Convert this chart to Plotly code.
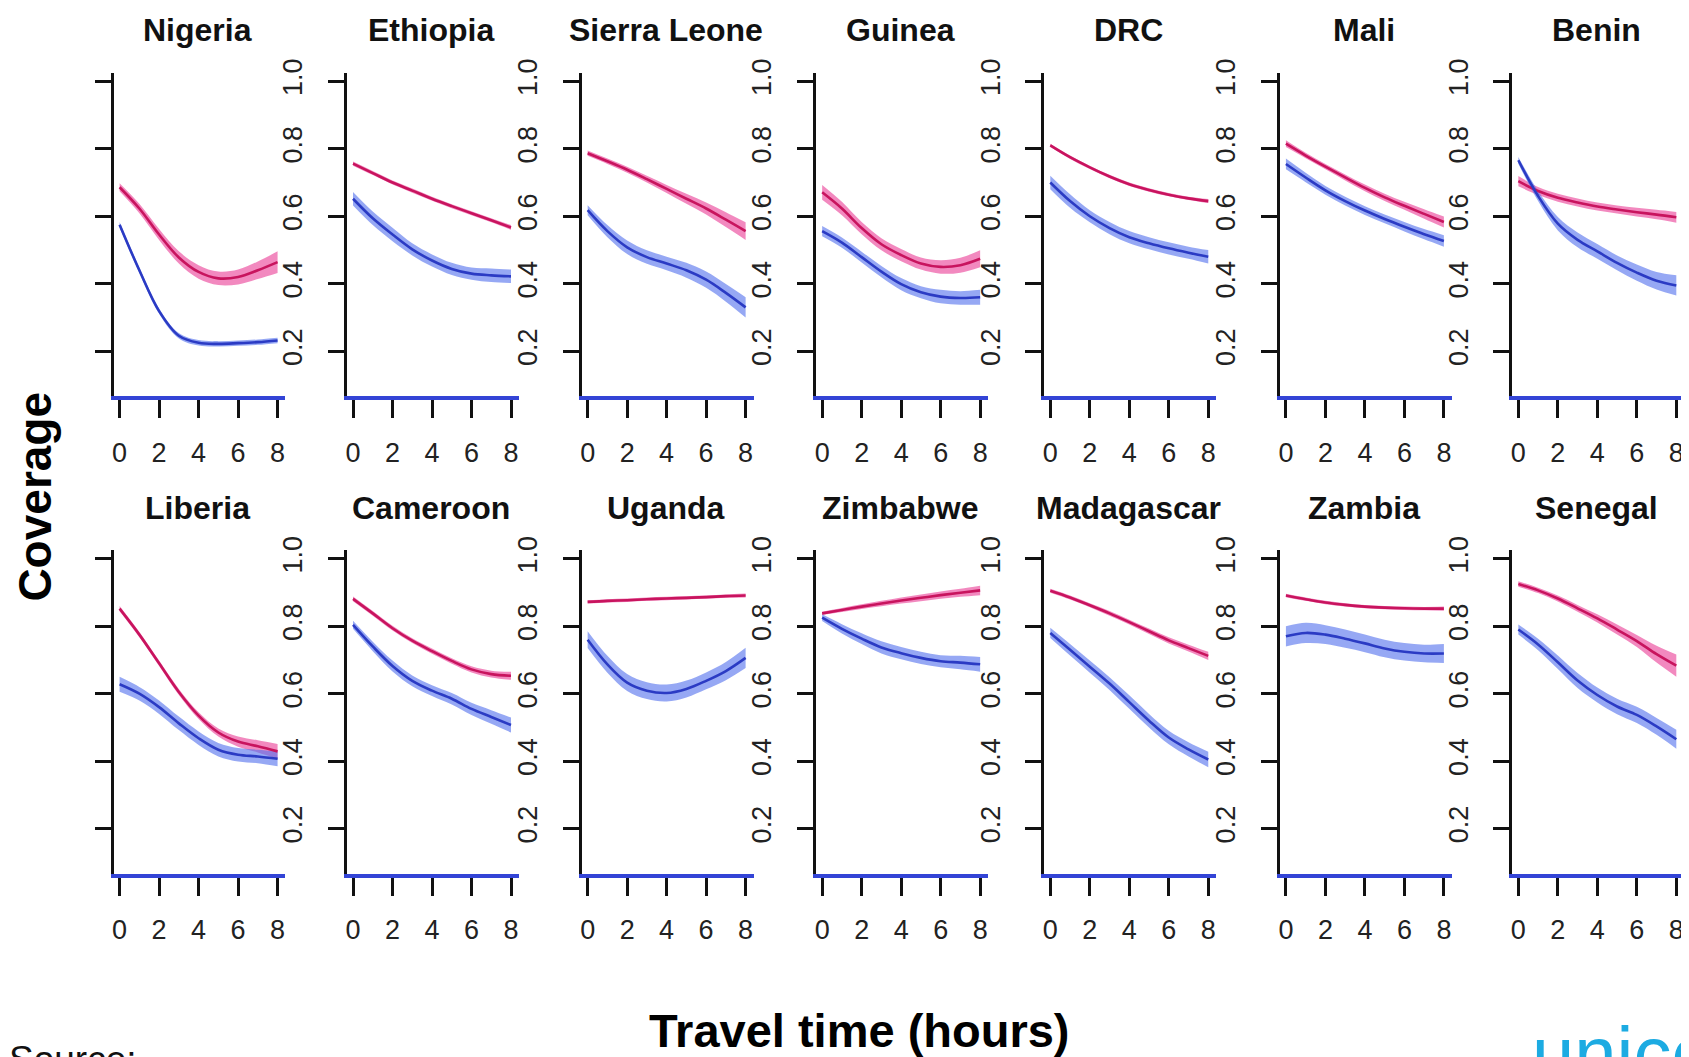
import plotly.graph_objects as go

W, H = 1689, 1057

hours = [0, 1, 2, 3, 4, 5, 6, 7, 8]
x_ticks = [0, 2, 4, 6, 8]
y_ticks = [0.2, 0.4, 0.6, 0.8, 1.0]
y_tick_text = ["0.2", "0.4", "0.6", "0.8", "1.0"]

countries = ["Nigeria", "Ethiopia", "Sierra Leone", "Guinea", "DRC", "Mali", "Benin",
             "Liberia", "Cameroon", "Uganda", "Zimbabwe", "Madagascar", "Zambia", "Senegal"]

# pink series: central estimate per country (hours 0..8)
pink_mid = [
    [0.686, 0.623, 0.546, 0.478, 0.435, 0.416, 0.420, 0.440, 0.464],
    [0.756, 0.728, 0.700, 0.676, 0.652, 0.630, 0.609, 0.588, 0.567],
    [0.787, 0.763, 0.738, 0.710, 0.681, 0.652, 0.623, 0.590, 0.556],
    [0.671, 0.623, 0.565, 0.517, 0.485, 0.460, 0.450, 0.455, 0.474],
    [0.810, 0.775, 0.745, 0.718, 0.695, 0.678, 0.664, 0.653, 0.645],
    [0.815, 0.780, 0.747, 0.715, 0.684, 0.656, 0.631, 0.607, 0.583],
    [0.704, 0.675, 0.655, 0.641, 0.629, 0.620, 0.612, 0.605, 0.597],
    [0.852, 0.775, 0.690, 0.605, 0.535, 0.485, 0.458, 0.444, 0.429],
    [0.881, 0.838, 0.794, 0.757, 0.726, 0.697, 0.672, 0.658, 0.653],
    [0.872, 0.875, 0.877, 0.880, 0.882, 0.884, 0.886, 0.889, 0.891],
    [0.838, 0.848, 0.858, 0.867, 0.876, 0.884, 0.892, 0.899, 0.906],
    [0.905, 0.885, 0.862, 0.838, 0.812, 0.785, 0.758, 0.735, 0.712],
    [0.891, 0.880, 0.870, 0.863, 0.858, 0.855, 0.853, 0.852, 0.852],
    [0.925, 0.906, 0.882, 0.853, 0.823, 0.790, 0.756, 0.717, 0.683],
]
# pink series: half-width of the uncertainty band
pink_ci = [
    [0.012, 0.014, 0.016, 0.018, 0.020, 0.020, 0.022, 0.026, 0.032],
    [0.006, 0.006, 0.006, 0.006, 0.006, 0.006, 0.006, 0.006, 0.007],
    [0.008, 0.008, 0.009, 0.010, 0.012, 0.015, 0.018, 0.022, 0.026],
    [0.022, 0.020, 0.018, 0.018, 0.018, 0.018, 0.020, 0.022, 0.025],
    [0.005, 0.005, 0.005, 0.005, 0.005, 0.005, 0.005, 0.005, 0.006],
    [0.010, 0.008, 0.008, 0.009, 0.010, 0.011, 0.012, 0.014, 0.016],
    [0.015, 0.012, 0.012, 0.012, 0.012, 0.012, 0.013, 0.014, 0.016],
    [0.008, 0.008, 0.008, 0.009, 0.010, 0.012, 0.015, 0.018, 0.022],
    [0.007, 0.007, 0.007, 0.007, 0.008, 0.008, 0.009, 0.010, 0.012],
    [0.005, 0.005, 0.005, 0.005, 0.005, 0.005, 0.005, 0.005, 0.006],
    [0.005, 0.006, 0.007, 0.008, 0.009, 0.010, 0.011, 0.012, 0.014],
    [0.006, 0.006, 0.006, 0.007, 0.007, 0.008, 0.009, 0.010, 0.012],
    [0.005, 0.005, 0.005, 0.005, 0.005, 0.005, 0.005, 0.005, 0.006],
    [0.008, 0.008, 0.009, 0.010, 0.012, 0.015, 0.018, 0.025, 0.033],
]
# blue series: central estimate per country
blue_mid = [
    [0.575, 0.440, 0.319, 0.246, 0.225, 0.222, 0.224, 0.227, 0.232],
    [0.652, 0.594, 0.546, 0.502, 0.469, 0.444, 0.430, 0.425, 0.422],
    [0.618, 0.556, 0.508, 0.479, 0.460, 0.440, 0.412, 0.373, 0.330],
    [0.556, 0.522, 0.479, 0.436, 0.399, 0.375, 0.362, 0.358, 0.360],
    [0.700, 0.645, 0.600, 0.565, 0.538, 0.520, 0.505, 0.492, 0.480],
    [0.755, 0.715, 0.677, 0.645, 0.617, 0.592, 0.569, 0.547, 0.527],
    [0.766, 0.660, 0.578, 0.530, 0.496, 0.462, 0.433, 0.409, 0.395],
    [0.628, 0.600, 0.560, 0.512, 0.468, 0.434, 0.419, 0.414, 0.407],
    [0.804, 0.740, 0.682, 0.638, 0.609, 0.585, 0.555, 0.531, 0.507],
    [0.760, 0.687, 0.633, 0.609, 0.602, 0.614, 0.638, 0.667, 0.706],
    [0.825, 0.792, 0.763, 0.737, 0.720, 0.706, 0.696, 0.692, 0.687],
    [0.780, 0.730, 0.680, 0.630, 0.575, 0.520, 0.470, 0.435, 0.405],
    [0.770, 0.780, 0.775, 0.763, 0.749, 0.734, 0.724, 0.719, 0.719],
    [0.790, 0.746, 0.693, 0.639, 0.596, 0.562, 0.537, 0.503, 0.465],
]
# blue series: half-width of the uncertainty band
blue_ci = [
    [0.008, 0.008, 0.008, 0.008, 0.008, 0.008, 0.008, 0.008, 0.008],
    [0.020, 0.020, 0.020, 0.018, 0.018, 0.018, 0.018, 0.020, 0.020],
    [0.015, 0.018, 0.020, 0.020, 0.020, 0.022, 0.024, 0.026, 0.030],
    [0.015, 0.015, 0.016, 0.017, 0.018, 0.018, 0.020, 0.020, 0.022],
    [0.020, 0.020, 0.018, 0.018, 0.018, 0.018, 0.018, 0.018, 0.020],
    [0.016, 0.014, 0.013, 0.013, 0.013, 0.013, 0.014, 0.015, 0.017],
    [0.010, 0.015, 0.020, 0.022, 0.022, 0.022, 0.024, 0.026, 0.030],
    [0.022, 0.020, 0.020, 0.020, 0.020, 0.020, 0.020, 0.020, 0.022],
    [0.012, 0.014, 0.016, 0.016, 0.016, 0.017, 0.018, 0.020, 0.022],
    [0.025, 0.025, 0.025, 0.025, 0.025, 0.025, 0.025, 0.027, 0.030],
    [0.010, 0.014, 0.016, 0.018, 0.018, 0.018, 0.018, 0.020, 0.022],
    [0.015, 0.017, 0.018, 0.019, 0.020, 0.020, 0.020, 0.021, 0.023],
    [0.030, 0.030, 0.028, 0.027, 0.026, 0.026, 0.026, 0.026, 0.028],
    [0.015, 0.017, 0.020, 0.022, 0.022, 0.023, 0.024, 0.025, 0.028],
]

# ---- styling / layout constants ----
PINK_BAND = "rgba(234,64,152,0.62)"
PINK_LINE = "#c8145e"
BLUE_BAND = "rgba(85,115,238,0.62)"
BLUE_LINE = "#2b3bc4"
AXIS_BLUE = "#3344d6"
TICK_FONT = "Liberation Sans Narrow, Arial Narrow, Liberation Sans, Arial, sans-serif"
TITLE_FONT = "Liberation Sans, Arial, Helvetica, sans-serif"

col_left = [103.8, 337.5, 572.4, 807.2, 1035.6, 1271.5, 1504.2]
panel_w = 172
row_top = [51.2, 535.0]
row_bottom = [379.5, 863.3]
title_y = [8.5, 493.0]
x_range = [-0.3, 8.4]
y_range = [0.066, 1.026]

fig = go.Figure()
layout_axes = {}
annotations = []

for i, name in enumerate(countries):
    r, c = divmod(i, 7)
    k = i + 1
    xa = "x" if k == 1 else f"x{k}"
    ya = "y" if k == 1 else f"y{k}"

    pm, pc, bm, bc = pink_mid[i], pink_ci[i], blue_mid[i], blue_ci[i]
    for mid, ci, band in [(pm, pc, PINK_BAND), (bm, bc, BLUE_BAND)]:
        lo = [m - e for m, e in zip(mid, ci)]
        hi = [m + e for m, e in zip(mid, ci)]
        fig.add_trace(go.Scatter(x=hours, y=lo, mode="lines", line=dict(width=0, shape="spline"),
                                 xaxis=xa, yaxis=ya, showlegend=False, hoverinfo="skip"))
        fig.add_trace(go.Scatter(x=hours, y=hi, mode="lines", line=dict(width=0, shape="spline"),
                                 fill="tonexty", fillcolor=band,
                                 xaxis=xa, yaxis=ya, showlegend=False, hoverinfo="skip"))
    for mid, line, label in [(pm, PINK_LINE, "pink"), (bm, BLUE_LINE, "blue")]:
        fig.add_trace(go.Scatter(x=hours, y=mid, mode="lines", name=f"{name} ({label})",
                                 line=dict(color=line, width=2.6, shape="spline"),
                                 xaxis=xa, yaxis=ya, showlegend=False))

    x0 = col_left[c]
    x1 = x0 + panel_w
    y0, y1 = row_top[r], row_bottom[r]
    layout_axes["xaxis" if k == 1 else f"xaxis{k}"] = dict(
        domain=[x0 / W, x1 / W], anchor=ya, range=x_range,
        tickvals=x_ticks, ticks="outside", ticklen=18, tickwidth=3, tickcolor="#111",
        showline=True, linecolor=AXIS_BLUE, linewidth=4,
        showgrid=False, zeroline=False, ticklabelstandoff=11,
        tickfont=dict(family=TICK_FONT, size=27, color="#222"),
    )
    layout_axes["yaxis" if k == 1 else f"yaxis{k}"] = dict(
        domain=[1 - y1 / H, 1 - y0 / H], anchor=xa, range=y_range,
        tickvals=y_ticks, ticktext=y_tick_text, ticks="outside", ticklen=16, tickwidth=3,
        tickcolor="#111", showline=True, linecolor="#111", linewidth=3,
        showgrid=False, zeroline=False, tickangle=-90,
        showticklabels=(c != 0), ticklabelstandoff=15,
        tickfont=dict(family=TICK_FONT, size=27, color="#222"),
    )
    annotations.append(dict(
        text=f"<b>{name}</b>", x=(x0 + panel_w / 2 - 2) / W, y=1 - title_y[r] / H,
        xref="paper", yref="paper", showarrow=False, xanchor="center", yanchor="middle",
        font=dict(family=TITLE_FONT, size=32, color="#111"),
    ))

annotations += [
    dict(text="<b>Coverage</b>", x=25 / W, y=1 - 481 / H, xref="paper", yref="paper",
         showarrow=False, textangle=-90, xanchor="center", yanchor="middle",
         font=dict(family=TITLE_FONT, size=46, color="#000")),
    dict(text="<b>Travel time (hours)</b>", x=851 / W, y=1 - 1022 / H, xref="paper", yref="paper",
         showarrow=False, xanchor="center", yanchor="middle",
         font=dict(family=TITLE_FONT, size=47, color="#000")),
    dict(text="Source:", x=-3 / W, y=1 - 1029 / H, xref="paper", yref="paper",
         showarrow=False, xanchor="left", yanchor="top",
         font=dict(family=TITLE_FONT, size=37, color="#111")),
    dict(text="unicef", x=1522 / W, y=1 - 1000 / H, xref="paper", yref="paper",
         showarrow=False, xanchor="left", yanchor="top",
         font=dict(family=TITLE_FONT, size=76, color="#1cabe2")),
]

fig.update_layout(
    width=W, height=H, margin=dict(l=0, r=0, t=0, b=0),
    paper_bgcolor="white", plot_bgcolor="white",
    annotations=annotations, showlegend=False, **layout_axes,
)

fig.write_html("out.html")
